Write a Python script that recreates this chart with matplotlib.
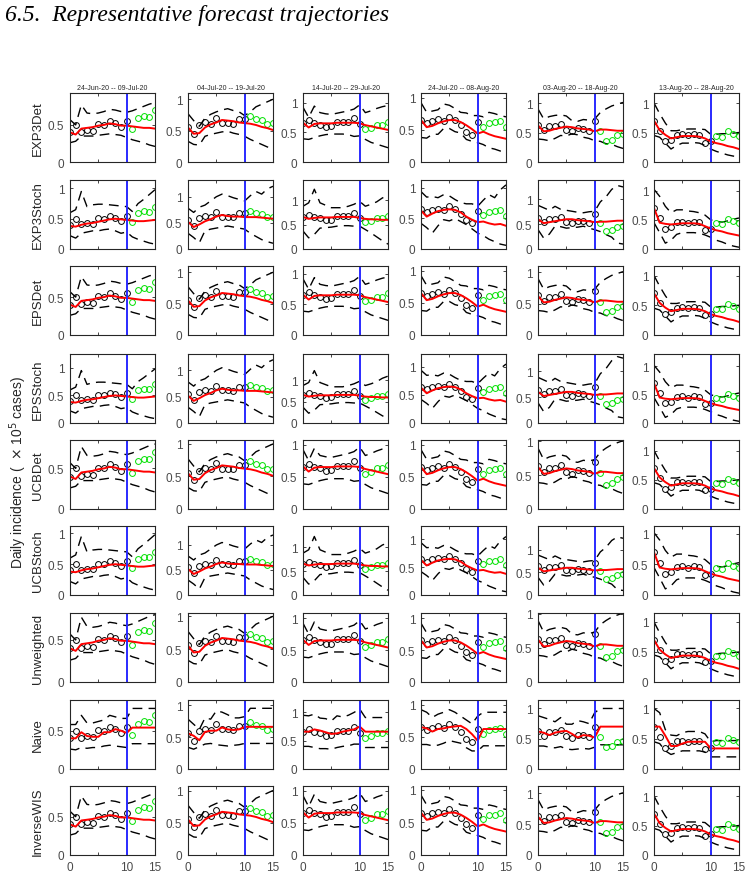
import matplotlib.pyplot as plt
import numpy as np

days = np.arange(16)
windows = ["24-Jun-20 -- 09-Jul-20", "04-Jul-20 -- 19-Jul-20", "14-Jul-20 -- 29-Jul-20",
           "24-Jul-20 -- 08-Aug-20", "03-Aug-20 -- 18-Aug-20", "13-Aug-20 -- 28-Aug-20"]
models = ["EXP3Det", "EXP3Stoch", "EPSDet", "EPSStoch", "UCBDet", "UCBStoch",
          "Unweighted", "Naive", "InverseWIS"]
family = ["det", "stoch", "det", "stoch", "det", "stoch", "det", "naive", "det"]

# observed incidence, days 0-10 fitted (black), 11-15 held out (green)
obs = [
    [0.40, 0.50, 0.41, 0.43, 0.42, 0.51, 0.50, 0.55, 0.52, 0.47, 0.55, 0.44, 0.59, 0.62, 0.61, 0.70],
    [0.56, 0.44, 0.59, 0.63, 0.61, 0.70, 0.62, 0.62, 0.61, 0.68, 0.68, 0.73, 0.69, 0.67, 0.61, 0.62],
    [0.65, 0.70, 0.65, 0.63, 0.59, 0.60, 0.67, 0.67, 0.67, 0.74, 0.64, 0.55, 0.58, 0.63, 0.63, 0.68],
    [0.65, 0.60, 0.64, 0.66, 0.64, 0.70, 0.65, 0.57, 0.47, 0.42, 0.62, 0.55, 0.61, 0.62, 0.64, 0.54],
    [0.63, 0.55, 0.61, 0.61, 0.65, 0.54, 0.52, 0.57, 0.56, 0.53, 0.70, 0.53, 0.36, 0.38, 0.45, 0.47],
    [0.70, 0.53, 0.35, 0.38, 0.46, 0.47, 0.45, 0.47, 0.46, 0.33, 0.35, 0.44, 0.43, 0.52, 0.48, 0.44],
]

det_mid = [
    [0.40, 0.37, 0.45, 0.46, 0.47, 0.49, 0.50, 0.52, 0.51, 0.49, 0.49, 0.48, 0.47, 0.46, 0.46, 0.45],
    [0.55, 0.45, 0.46, 0.55, 0.60, 0.63, 0.67, 0.66, 0.65, 0.63, 0.62, 0.61, 0.59, 0.56, 0.54, 0.51],
    [0.66, 0.58, 0.64, 0.65, 0.65, 0.65, 0.66, 0.66, 0.66, 0.66, 0.65, 0.62, 0.60, 0.58, 0.56, 0.54],
    [0.65, 0.54, 0.56, 0.60, 0.63, 0.65, 0.65, 0.62, 0.57, 0.51, 0.44, 0.47, 0.43, 0.40, 0.38, 0.36],
    [0.62, 0.52, 0.53, 0.56, 0.58, 0.60, 0.59, 0.57, 0.56, 0.55, 0.52, 0.55, 0.55, 0.54, 0.53, 0.53],
    [0.70, 0.54, 0.46, 0.40, 0.42, 0.44, 0.44, 0.44, 0.43, 0.40, 0.35, 0.32, 0.30, 0.27, 0.25, 0.22],
]
det_hi = [
    [0.57, 0.50, 0.77, 0.66, 0.65, 0.66, 0.68, 0.71, 0.70, 0.68, 0.67, 0.69, 0.72, 0.75, 0.78, 0.80],
    [0.77, 0.66, 0.57, 0.70, 0.76, 0.80, 0.83, 0.85, 0.82, 0.80, 0.74, 0.80, 0.88, 0.92, 0.96, 1.00],
    [0.92, 0.75, 0.94, 0.83, 0.81, 0.80, 0.82, 0.84, 0.86, 0.89, 0.96, 0.83, 0.86, 0.90, 0.93, 0.95],
    [0.92, 0.77, 0.79, 0.81, 0.90, 0.88, 0.83, 0.77, 0.76, 0.72, 0.72, 0.70, 0.77, 0.75, 0.72, 0.70],
    [0.90, 0.73, 0.77, 0.79, 0.80, 0.78, 0.70, 0.69, 0.72, 0.71, 0.73, 0.84, 0.90, 0.95, 0.98, 1.01],
    [1.00, 0.82, 0.66, 0.53, 0.53, 0.55, 0.56, 0.56, 0.56, 0.55, 0.47, 0.47, 0.48, 0.48, 0.49, 0.50],
]
det_lo = [
    [0.26, 0.28, 0.35, 0.35, 0.35, 0.36, 0.37, 0.38, 0.37, 0.36, 0.33, 0.30, 0.28, 0.26, 0.23, 0.21],
    [0.33, 0.28, 0.27, 0.41, 0.44, 0.46, 0.48, 0.49, 0.46, 0.44, 0.41, 0.36, 0.32, 0.28, 0.24, 0.21],
    [0.39, 0.38, 0.41, 0.44, 0.46, 0.47, 0.47, 0.47, 0.46, 0.43, 0.44, 0.38, 0.33, 0.30, 0.27, 0.24],
    [0.38, 0.37, 0.43, 0.43, 0.52, 0.52, 0.47, 0.45, 0.35, 0.32, 0.30, 0.27, 0.22, 0.20, 0.17, 0.15],
    [0.39, 0.38, 0.36, 0.40, 0.45, 0.44, 0.48, 0.46, 0.42, 0.40, 0.36, 0.35, 0.31, 0.30, 0.26, 0.23],
    [0.45, 0.42, 0.32, 0.22, 0.28, 0.32, 0.32, 0.33, 0.32, 0.28, 0.22, 0.18, 0.15, 0.12, 0.10, 0.09],
]

stoch_mid = [
    [0.38, 0.37, 0.40, 0.42, 0.43, 0.45, 0.47, 0.49, 0.50, 0.49, 0.48, 0.47, 0.46, 0.46, 0.47, 0.48],
    [0.52, 0.42, 0.47, 0.53, 0.57, 0.62, 0.65, 0.63, 0.62, 0.62, 0.61, 0.61, 0.61, 0.60, 0.59, 0.58],
    [0.66, 0.62, 0.64, 0.65, 0.65, 0.65, 0.66, 0.66, 0.66, 0.66, 0.64, 0.62, 0.61, 0.61, 0.60, 0.60],
    [0.63, 0.53, 0.58, 0.62, 0.64, 0.65, 0.64, 0.60, 0.53, 0.48, 0.44, 0.45, 0.42, 0.40, 0.41, 0.38],
    [0.60, 0.52, 0.54, 0.56, 0.58, 0.60, 0.60, 0.58, 0.57, 0.56, 0.54, 0.55, 0.55, 0.56, 0.57, 0.57],
    [0.70, 0.45, 0.43, 0.42, 0.43, 0.44, 0.44, 0.44, 0.43, 0.39, 0.35, 0.32, 0.30, 0.27, 0.25, 0.23],
]
stoch_hi = [
    [0.60, 0.65, 0.95, 0.70, 0.73, 0.74, 0.74, 0.73, 0.72, 0.71, 0.70, 0.62, 0.75, 0.82, 0.90, 0.98],
    [0.78, 0.70, 0.80, 0.84, 0.92, 1.00, 1.05, 1.02, 0.98, 0.95, 0.92, 1.02, 1.10, 1.05, 1.15, 1.20],
    [0.88, 0.95, 1.23, 0.95, 0.90, 0.85, 0.85, 0.85, 0.88, 0.92, 0.98, 0.88, 0.92, 0.97, 1.05, 1.10],
    [0.94, 0.85, 0.86, 0.84, 0.89, 0.87, 0.81, 0.76, 0.74, 0.74, 0.70, 0.80, 0.89, 0.84, 0.97, 1.05],
    [0.88, 0.83, 0.78, 0.86, 0.80, 0.78, 0.76, 0.74, 0.73, 0.75, 0.76, 0.95, 1.05, 1.20, 1.28, 1.25],
    [1.02, 0.90, 0.73, 0.62, 0.67, 0.67, 0.65, 0.64, 0.62, 0.58, 0.50, 0.47, 0.46, 0.48, 0.51, 0.53],
]
stoch_lo = [
    [0.22, 0.18, 0.26, 0.28, 0.30, 0.30, 0.32, 0.33, 0.30, 0.26, 0.28, 0.20, 0.16, 0.13, 0.10, 0.08],
    [0.30, 0.22, 0.12, 0.35, 0.38, 0.40, 0.42, 0.44, 0.42, 0.40, 0.38, 0.30, 0.24, 0.18, 0.14, 0.11],
    [0.37, 0.23, 0.30, 0.43, 0.44, 0.45, 0.47, 0.48, 0.48, 0.47, 0.47, 0.40, 0.33, 0.25, 0.17, 0.10],
    [0.42, 0.35, 0.26, 0.38, 0.48, 0.46, 0.50, 0.45, 0.40, 0.33, 0.26, 0.22, 0.16, 0.12, 0.08, 0.06],
    [0.39, 0.22, 0.30, 0.46, 0.45, 0.42, 0.43, 0.44, 0.46, 0.42, 0.39, 0.35, 0.29, 0.24, 0.12, 0.10],
    [0.45, 0.28, 0.10, 0.15, 0.25, 0.28, 0.28, 0.28, 0.27, 0.24, 0.20, 0.15, 0.12, 0.08, 0.05, 0.03],
]

naive_mid = [
    [0.40, 0.40, 0.48, 0.43, 0.42, 0.42, 0.48, 0.48, 0.52, 0.50, 0.47, 0.54, 0.54, 0.54, 0.54, 0.54],
    [0.56, 0.52, 0.45, 0.58, 0.60, 0.60, 0.65, 0.62, 0.61, 0.62, 0.66, 0.66, 0.66, 0.66, 0.66, 0.66],
    [0.66, 0.66, 0.70, 0.68, 0.65, 0.62, 0.63, 0.66, 0.68, 0.70, 0.75, 0.66, 0.66, 0.66, 0.66, 0.66],
    [0.65, 0.63, 0.58, 0.62, 0.63, 0.65, 0.66, 0.67, 0.62, 0.54, 0.44, 0.62, 0.62, 0.62, 0.62, 0.62],
    [0.62, 0.60, 0.56, 0.60, 0.62, 0.63, 0.58, 0.52, 0.56, 0.55, 0.52, 0.70, 0.70, 0.70, 0.70, 0.70],
    [0.70, 0.70, 0.55, 0.38, 0.38, 0.42, 0.45, 0.45, 0.45, 0.45, 0.34, 0.34, 0.34, 0.34, 0.34, 0.34],
]
naive_hi = [
    [0.58, 0.58, 0.70, 0.60, 0.60, 0.62, 0.64, 0.70, 0.68, 0.66, 0.66, 0.79, 0.79, 0.79, 0.79, 0.79],
    [0.78, 0.70, 0.62, 0.80, 0.78, 0.91, 0.89, 0.85, 0.80, 0.80, 0.82, 0.95, 0.95, 0.95, 0.95, 0.95],
    [0.95, 0.94, 0.97, 0.90, 0.89, 0.85, 0.94, 0.92, 0.95, 1.00, 1.06, 0.91, 0.91, 0.91, 0.91, 0.91],
    [0.92, 0.88, 0.80, 0.85, 0.88, 0.92, 0.88, 0.82, 0.76, 0.70, 0.82, 0.88, 0.88, 0.88, 0.88, 0.88],
    [0.88, 0.85, 0.82, 0.78, 0.85, 0.74, 0.74, 0.80, 0.78, 0.75, 0.93, 1.00, 1.00, 1.00, 1.00, 1.00],
    [1.00, 0.93, 0.65, 0.56, 0.55, 0.60, 0.62, 0.62, 0.62, 0.58, 0.45, 0.47, 0.47, 0.47, 0.47, 0.47],
]
naive_lo = [
    [0.26, 0.25, 0.28, 0.27, 0.28, 0.28, 0.30, 0.31, 0.30, 0.29, 0.28, 0.33, 0.33, 0.33, 0.33, 0.33],
    [0.34, 0.31, 0.35, 0.39, 0.40, 0.38, 0.37, 0.36, 0.37, 0.38, 0.40, 0.40, 0.40, 0.40, 0.40, 0.40],
    [0.40, 0.40, 0.38, 0.36, 0.36, 0.35, 0.38, 0.40, 0.41, 0.44, 0.44, 0.38, 0.38, 0.38, 0.38, 0.38],
    [0.38, 0.38, 0.36, 0.37, 0.40, 0.44, 0.42, 0.40, 0.33, 0.28, 0.28, 0.36, 0.36, 0.36, 0.36, 0.36],
    [0.38, 0.38, 0.36, 0.35, 0.37, 0.33, 0.32, 0.33, 0.34, 0.33, 0.36, 0.40, 0.40, 0.40, 0.40, 0.40],
    [0.45, 0.42, 0.30, 0.24, 0.27, 0.30, 0.30, 0.30, 0.30, 0.28, 0.20, 0.20, 0.20, 0.20, 0.20, 0.20],
]

# upper y limit of each panel, one row per model
ytop = [
    [0.93, 1.10, 1.16, 1.07, 1.17, 1.17],
    [1.14, 1.32, 1.42, 1.13, 1.39, 1.18],
    [0.91, 1.10, 1.13, 1.07, 1.10, 1.16],
    [1.25, 1.31, 1.62, 1.23, 1.33, 1.22],
    [0.85, 1.06, 1.07, 1.07, 1.02, 1.18],
    [1.12, 1.38, 1.45, 1.24, 1.52, 1.13],
    [0.82, 1.05, 1.08, 1.08, 1.01, 1.15],
    [0.90, 1.08, 1.22, 1.07, 1.14, 1.14],
    [0.90, 1.07, 1.07, 1.06, 1.12, 1.17],
]

lines = {
    "det": (det_mid, det_hi, det_lo),
    "stoch": (stoch_mid, stoch_hi, stoch_lo),
    "naive": (naive_mid, naive_hi, naive_lo),
}

plt.rcParams["font.family"] = ["Liberation Sans", "DejaVu Sans"]
W, H = 751, 879
fig = plt.figure(figsize=(W / 100, H / 100), dpi=100)

col_left = [70, 188, 303, 421, 538, 654]
row_top = [94, 181, 267, 355, 441, 527, 614, 701, 787]
aw, ah = 85, 69
axc = "#262626"
dash = (0, (7, 4.5))

for r, model in enumerate(models):
    mid, hi, lo = lines[family[r]]
    for c in range(6):
        ax = fig.add_axes([col_left[c] / W, 1 - (row_top[r] + ah) / H, aw / W, ah / H])
        y = np.array(obs[c])
        ax.plot(days, lo[c], color="k", lw=1.0, ls=dash)
        ax.plot(days, hi[c], color="k", lw=1.0, ls=dash)
        ax.plot(days[:11], y[:11], "o", mfc="none", mec="k", ms=4.2, mew=0.7)
        ax.plot(days[11:], y[11:], "o", mfc="none", mec="#00e000", ms=4.2, mew=0.7)
        ax.plot(days, mid[c], color="#ff0000", lw=1.4)
        ax.axvline(10, color="#2a2aff", lw=1.4)
        ax.set_xlim(0, 15)
        ax.set_ylim(0, ytop[r][c])
        ax.set_xticks([0, 5, 10, 15])
        ax.set_yticks([t for t in (0, 0.5, 1) if t <= ytop[r][c]])
        ax.set_yticklabels([f"{t:g}" for t in (0, 0.5, 1) if t <= ytop[r][c]])
        if r == len(models) - 1:
            ax.set_xticklabels(["0", "", "10", "15"])
        else:
            ax.set_xticklabels([])
        ax.tick_params(direction="in", length=2.5, width=0.6, labelsize=8.5,
                       colors=axc, labelcolor="#4a4a4a", top=True, right=True, pad=4)
        for s in ax.spines.values():
            s.set_color(axc)
            s.set_linewidth(0.8)
        if c == 0:
            ax.set_ylabel(model, fontsize=9.5, color="#262626", labelpad=3)
        if r == 0:
            ax.set_title(windows[c], fontsize=5, color="#262626", pad=3)

fig.text(5 / W, 1 - 5 / H, "6.5.  Representative forecast trajectories",
         family="Liberation Serif", style="italic", fontsize=17, va="top", ha="left")
fig.text(18 / W, 1 - 472 / H, r"Daily incidence (  $\times$ 10$^{5}$ cases)",
         rotation=90, fontsize=10, color="#262626", ha="center", va="center")

fig.savefig("out.png", dpi=100)
